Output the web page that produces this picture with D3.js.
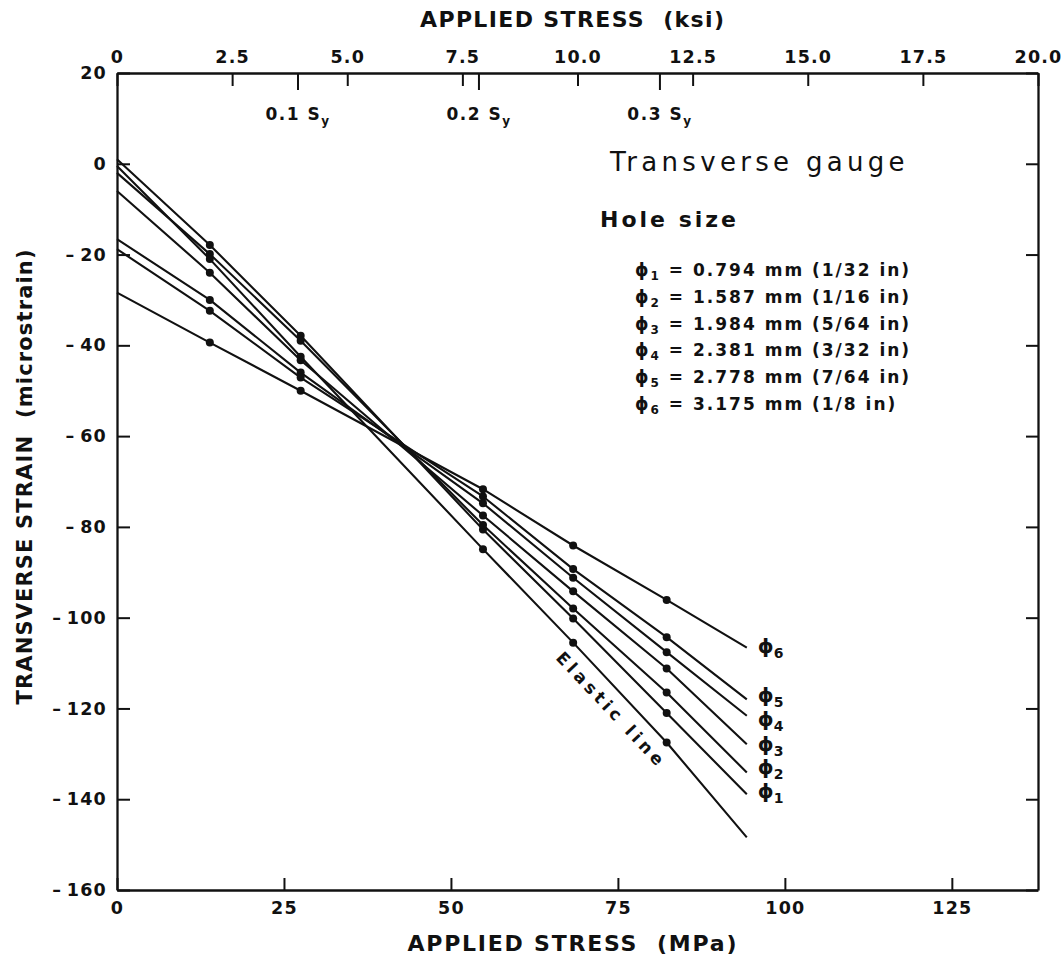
<!DOCTYPE html>
<html>
<head>
<meta charset="utf-8">
<script src="https://cdn.jsdelivr.net/npm/d3@7"></script>
<style>
  body { margin: 0; background: #fff; }
  svg { display: block; }
  text { font-family: "DejaVu Sans", sans-serif; fill: #111; }
</style>
</head>
<body>
<svg id="chart" width="1062" height="958"></svg>
<script>
// ---------------- data ----------------
// applied stress (MPa) at which each curve is sampled: start, 2, 4, 8, 10, 12 ksi, end
const stressMPa = [0, 13.9, 27.5, 54.8, 68.3, 82.3, 94.3];
// transverse strain (microstrain) for each hole size and the elastic line
const phi1 = [1.0, -17.9, -37.9, -80.6, -100.2, -121.0, -138.9];
const phi2 = [-2.0, -19.9, -39.0, -79.6, -98.0, -116.5, -134.1];
const phi3 = [-6.0, -24.0, -43.3, -77.5, -94.2, -111.2, -127.9];
const phi4 = [-16.6, -30.0, -46.0, -74.8, -91.2, -107.6, -121.6];
const phi5 = [-18.8, -32.4, -47.1, -73.3, -89.3, -104.3, -118.0];
const phi6 = [-28.4, -39.4, -50.0, -71.7, -84.1, -96.1, -106.6];
const elastic = [-0.5, -21.0, -42.5, -84.9, -105.5, -127.5, -148.4];
// indices of the measured points (dots) in each series
const dotIndex = [1, 2, 3, 4, 5];

// legend / labels
const holeSub = ["1", "2", "3", "4", "5", "6"];
const holeMM = ["0.794", "1.587", "1.984", "2.381", "2.778", "3.175"];
const holeIn = ["1/32", "1/16", "5/64", "3/32", "7/64", "1/8"];

// axis ticks
const strainTicks = [20, 0, -20, -40, -60, -80, -100, -120, -140, -160];
const mpaTicks = [0, 25, 50, 75, 100, 125];
const ksiTicks = [0, 2.5, 5, 7.5, 10, 12.5, 15, 17.5, 20];
const syTicksKsi = [3.93, 7.86, 11.79];
const syLabels = ["0.1", "0.2", "0.3"];

// ---------------- layout ----------------
const svg = d3.select("#chart");
const X0 = 117, X1 = 1038, Y0 = 890, Y1 = 73;
const maxKsi = 20;
const maxMPa = maxKsi * 6.895;

const x = d3.scaleLinear().domain([0, maxMPa]).range([X0, X1]);
const xk = d3.scaleLinear().domain([0, maxKsi]).range([X0, X1]);
const y = d3.scaleLinear().domain([-160, 20]).range([Y0, Y1]);

const ink = "#111";
const axisFont = 17.5;

function styleAxis(g) {
  g.select(".domain").attr("stroke", ink).attr("stroke-width", 2.3);
  g.selectAll(".tick line").attr("stroke", ink).attr("stroke-width", 2);
  g.selectAll(".tick text")
    .attr("fill", ink)
    .style("font-family", "'DejaVu Sans', sans-serif")
    .style("font-weight", "bold")
    .style("font-size", axisFont + "px")
    .style("letter-spacing", "1.2px");
}

// left axis
const gl = svg.append("g").attr("transform", `translate(${X0},0)`)
  .call(d3.axisLeft(y).tickValues(strainTicks).tickSizeInner(-13).tickSizeOuter(0).tickPadding(10)
    .tickFormat(d => d < 0 ? "\u2013\u2009" + Math.abs(d) : String(d)));
styleAxis(gl);

// right axis
const gr = svg.append("g").attr("transform", `translate(${X1},0)`)
  .call(d3.axisRight(y).tickValues(strainTicks).tickSizeInner(-12).tickSizeOuter(0).tickFormat(""));
styleAxis(gr);

// bottom axis (MPa)
const gb = svg.append("g").attr("transform", `translate(0,${Y0})`)
  .call(d3.axisBottom(x).tickValues(mpaTicks).tickSizeInner(-12).tickSizeOuter(0).tickFormat(d3.format("d")));
styleAxis(gb);
gb.selectAll(".tick text").attr("dy", null).attr("y", 24);

// top axis (ksi)
const gt = svg.append("g").attr("transform", `translate(0,${Y1})`)
  .call(d3.axisTop(xk).tickValues(ksiTicks).tickSizeInner(-13).tickSizeOuter(0)
    .tickFormat(d => d === 0 ? "0" : d.toFixed(1)));
styleAxis(gt);
gt.selectAll(".tick text").attr("dy", null).attr("y", -10);

// yield-stress fraction ticks on the top axis
const sy = svg.append("g");
sy.selectAll("line").data(syTicksKsi).join("line")
  .attr("x1", d => xk(d)).attr("x2", d => xk(d))
  .attr("y1", Y1).attr("y2", Y1 + 17)
  .attr("stroke", ink).attr("stroke-width", 2);
const syText = sy.selectAll("text").data(syTicksKsi).join("text")
  .attr("x", d => xk(d)).attr("y", 120)
  .attr("text-anchor", "middle")
  .style("font-weight", "bold").style("font-size", "17px").style("letter-spacing", "1.5px");
syText.append("tspan").text((d, i) => syLabels[i] + " S");
syText.append("tspan").attr("dy", 5).style("font-size", "12px").text("y");

// axis titles
svg.append("text").attr("x", 572).attr("y", 27).attr("text-anchor", "middle")
  .attr("textLength", 304).attr("lengthAdjust", "spacing")
  .style("font-weight", "bold").style("font-size", "22px")
  .text("APPLIED STRESS\u00a0\u00a0(ksi)");
svg.append("text").attr("x", 572).attr("y", 951).attr("text-anchor", "middle")
  .attr("textLength", 329).attr("lengthAdjust", "spacing")
  .style("font-weight", "bold").style("font-size", "22px")
  .text("APPLIED STRESS\u00a0\u00a0(MPa)");
svg.append("text").attr("transform", "translate(31.5,477) rotate(-90)").attr("text-anchor", "middle")
  .attr("textLength", 455).attr("lengthAdjust", "spacing")
  .style("font-weight", "bold").style("font-size", "21px")
  .text("TRANSVERSE STRAIN\u00a0\u00a0(microstrain)");

// ---------------- series ----------------
const series = [phi1, phi2, phi3, phi4, phi5, phi6, elastic];
const line = d3.line().x((d, i) => x(stressMPa[i])).y(d => y(d));

const gs = svg.append("g");
gs.selectAll("path.curve").data(series).join("path")
  .attr("class", "curve")
  .attr("d", d => line(d))
  .attr("fill", "none").attr("stroke", ink).attr("stroke-width", 2.1)
  .attr("stroke-linejoin", "round");

series.forEach(s => {
  gs.append("g").selectAll("circle").data(dotIndex).join("circle")
    .attr("cx", i => x(stressMPa[i]))
    .attr("cy", i => y(s[i]))
    .attr("r", 4).attr("fill", ink);
});

// curve end labels (phi_n)
const labelNudge = [3.5, 2, 7, 10.5, 3, 5];
const last = stressMPa.length - 1;
series.slice(0, 6).forEach((s, k) => {
  const t = svg.append("text")
    .attr("x", x(stressMPa[last]) + 11)
    .attr("y", y(s[last]) + labelNudge[k])
    .style("font-size", "20px").style("font-weight", "bold");
  t.append("tspan").text("\u03d5");
  t.append("tspan").attr("dy", 5).style("font-size", "14px").text(holeSub[k]);
});

// elastic line label, along the line
const eAt = d3.scaleLinear().domain(stressMPa).range(elastic);
const lblMPa = 76;
const ang = Math.atan2(y(elastic[last]) - y(elastic[0]), x(stressMPa[last]) - x(stressMPa[0])) * 180 / Math.PI;
svg.append("text")
  .attr("transform", `translate(${x(lblMPa)},${y(eAt(lblMPa))}) rotate(${ang})`)
  .attr("y", 24).attr("text-anchor", "middle")
  .style("font-weight", "bold").style("font-size", "17px").style("letter-spacing", "4px")
  .text("Elastic line");

// ---------------- annotations ----------------
svg.append("text").attr("x", 610).attr("y", 171)
  .style("font-size", "26px").style("letter-spacing", "4.3px")
  .text("Transverse gauge");
svg.append("text").attr("x", 600).attr("y", 227)
  .style("font-size", "22px").style("font-weight", "bold").style("letter-spacing", "3px")
  .text("Hole size");

const lg = svg.append("g");
holeSub.forEach((sub, k) => {
  const t = lg.append("text").attr("x", 635).attr("y", 276 + k * 26.8)
    .style("font-size", "17px").style("font-weight", "bold").style("letter-spacing", "2px");
  t.append("tspan").text("\u03d5");
  t.append("tspan").attr("dy", 4).style("font-size", "12px").text(sub);
  t.append("tspan").attr("dy", -4).text(" = " + holeMM[k] + " mm (" + holeIn[k] + " in)");
});
</script>
</body>
</html>
